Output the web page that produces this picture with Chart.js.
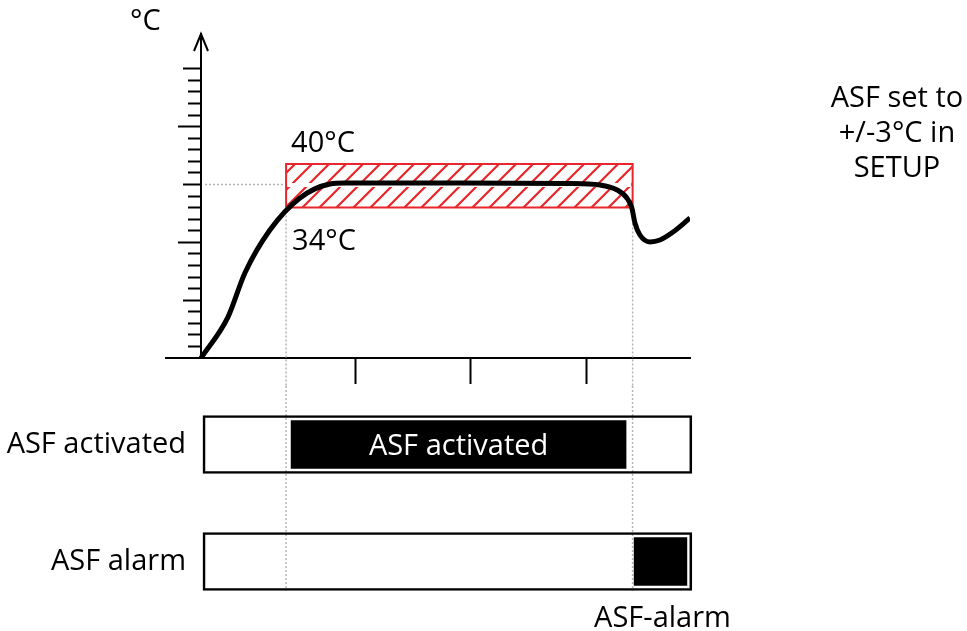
<!DOCTYPE html>
<html>
<head>
<meta charset="utf-8">
<script src="https://cdn.jsdelivr.net/npm/chart.js@4.4.0/dist/chart.umd.min.js"></script>
<style>
  html, body { margin: 0; padding: 0; background: #fff; overflow: hidden; }
  canvas { position: absolute; left: 0; }
  #temp { top: 0; }
  #status { top: 346px; }
</style>
</head>
<body>
<canvas id="temp" width="967" height="386"></canvas>
<canvas id="status" width="967" height="310"></canvas>
<script>
// temperature curve: time units on x, tick units on y (0 = x axis)
const curveTime = [0, 0.70, 1.14, 1.79, 2.57, 3.35, 3.74, 6.47, 9.58, 10.36, 10.81, 11.06, 11.19, 11.27, 11.40, 11.66, 11.92, 12.26, 12.70];
const curveLevel = [0, 3.54, 7.35, 11.06, 13.83, 15.04, 15.12, 15.12, 15.08, 14.95, 14.52, 13.83, 12.96, 11.67, 10.63, 10.03, 10.20, 10.89, 12.10];

// ASF band (34°C .. 40°C) and set point
const bandTime = [2.21, 11.21];
const bandLevel = [13.0, 16.77];
const setLevel = 15;
const bandLabels = ['40°C', '34°C'];

// axis ticks
const timeTicks = [4, 7, 10];
const minorTicks = [1, 2, 3, 4, 6, 7, 8, 9, 11, 12, 13, 14, 16, 17, 18, 19, 21, 22, 23, 24];
const midTicks = [5, 15, 25];
const majorTicks = [10, 20];

// status rows
const statusRows = ['ASF activated', 'ASF alarm'];
const frameRange = [0.05, 12.75];
const statusOn = [[2.34, 11.04], [11.25, 12.62]];
const noteLines = ['ASF set to', '+/-3°C in', 'SETUP'];

const RED = '#e8262b';
const DOTS = '#b4b4b4';
const FONT = '"Open Sans", sans-serif';
const TEXT = '29px ' + FONT;
Chart.defaults.font.family = FONT;
Chart.defaults.color = '#000';

function hatch(color) {
  const s = 17;
  const c = document.createElement('canvas');
  c.width = s; c.height = s;
  const g = c.getContext('2d');
  g.strokeStyle = color;
  g.lineWidth = 2.2;
  g.beginPath();
  g.moveTo(0, s); g.lineTo(s, 0);
  g.moveTo(-s / 2, s / 2); g.lineTo(s / 2, -s / 2);
  g.moveTo(s / 2, s * 1.5); g.lineTo(s * 1.5, s / 2);
  g.stroke();
  return g.createPattern(c, 'repeat');
}

function tickAxis(ticks, len, border) {
  return {
    type: 'linear',
    position: { x: 0 },
    min: 0,
    max: 28,
    border: { display: border, width: 2, color: '#000' },
    grid: { drawOnChartArea: false, drawTicks: true, tickLength: len, tickWidth: 2, color: '#000' },
    ticks: { display: false },
    afterBuildTicks: (s) => { s.ticks = ticks.map((v) => ({ value: v })); }
  };
}

const tempDecor = {
  id: 'tempDecor',
  beforeDatasetsDraw(chart) {
    const { ctx, scales: { x, y } } = chart;
    const x0 = x.getPixelForValue(0);
    const xs = x.getPixelForValue(bandTime[0]);
    const xe = x.getPixelForValue(bandTime[1]);
    const ys = y.getPixelForValue(setLevel);
    const yb = y.getPixelForValue(bandLevel[0]);
    ctx.save();
    ctx.strokeStyle = DOTS;
    ctx.lineWidth = 1.5;
    ctx.setLineDash([2, 2]);
    ctx.beginPath();
    ctx.moveTo(x0 + 4, ys); ctx.lineTo(xs, ys);
    ctx.moveTo(xs, yb); ctx.lineTo(xs, chart.height);
    ctx.moveTo(xe, yb); ctx.lineTo(xe, chart.height);
    ctx.stroke();
    ctx.restore();
  },
  afterDatasetDraw(chart, args) {
    // white gap through the middle of the hatching
    if (args.index !== 1) return;
    const { ctx, scales: { x, y } } = chart;
    const ys = y.getPixelForValue(setLevel) + 0.5;
    ctx.save();
    ctx.strokeStyle = '#fff';
    ctx.lineWidth = 4;
    ctx.beginPath();
    ctx.moveTo(x.getPixelForValue(bandTime[0]) + 1.5, ys);
    ctx.lineTo(x.getPixelForValue(bandTime[1]) - 1.5, ys);
    ctx.stroke();
    ctx.restore();
  },
  afterDraw(chart) {
    const { ctx, chartArea, scales: { x, y } } = chart;
    const x0 = x.getPixelForValue(0);
    const top = chartArea.top;
    ctx.save();
    // arrow head
    ctx.strokeStyle = '#000';
    ctx.lineWidth = 2;
    ctx.beginPath();
    ctx.moveTo(x0 - 7, top + 17);
    ctx.lineTo(x0, top);
    ctx.lineTo(x0 + 7, top + 17);
    ctx.stroke();
    // texts
    ctx.fillStyle = '#000';
    ctx.font = TEXT;
    ctx.textBaseline = 'alphabetic';
    ctx.textAlign = 'left';
    ctx.fillText('°C', x0 - 71, top - 4);
    const xs = x.getPixelForValue(bandTime[0]);
    ctx.fillText(bandLabels[0], xs + 5, y.getPixelForValue(bandLevel[1]) - 12);
    ctx.fillText(bandLabels[1], xs + 6, y.getPixelForValue(bandLevel[0]) + 42);
    ctx.textAlign = 'center';
    noteLines.forEach((t, i) => ctx.fillText(t, 897, 107 + i * 35));
    ctx.restore();
  }
};

new Chart(document.getElementById('temp'), {
  type: 'line',
  data: {
    datasets: [
      {
        data: curveTime.map((t, i) => ({ x: t, y: curveLevel[i] })),
        borderColor: '#000',
        borderWidth: 5,
        pointRadius: 0,
        cubicInterpolationMode: 'monotone',
        fill: false,
        order: 0
      },
      {
        data: [
          { x: bandTime[0], y: bandLevel[0] },
          { x: bandTime[0], y: bandLevel[1] },
          { x: bandTime[1], y: bandLevel[1] },
          { x: bandTime[1], y: bandLevel[0] },
          { x: bandTime[0], y: bandLevel[0] }
        ],
        borderColor: RED,
        borderWidth: 2,
        backgroundColor: hatch(RED),
        pointRadius: 0,
        fill: 'shape',
        order: 1
      }
    ]
  },
  options: {
    responsive: false,
    animation: false,
    events: [],
    layout: { padding: { left: 166, right: 277, top: 34, bottom: 28 } },
    plugins: { legend: { display: false }, tooltip: { enabled: false } },
    scales: {
      x: {
        type: 'linear',
        position: { y: 0 },
        min: -0.909,
        max: 12.7,
        border: { display: true, width: 2, color: '#000' },
        grid: { drawOnChartArea: false, drawTicks: true, tickLength: 25, tickWidth: 2, color: '#000' },
        ticks: { display: false },
        afterBuildTicks: (s) => { s.ticks = timeTicks.map((v) => ({ value: v })); }
      },
      y: tickAxis(minorTicks, 12, true),
      yMid: tickAxis(midTicks, 18, false),
      yMajor: tickAxis(majorTicks, 23, false)
    }
  },
  plugins: [tempDecor]
});

const statusDecor = {
  id: 'statusDecor',
  beforeDatasetsDraw(chart) {
    const { ctx, chartArea, scales: { x, y } } = chart;
    const bottom = y.getPixelForValue(1) + 29;
    ctx.save();
    ctx.strokeStyle = DOTS;
    ctx.lineWidth = 1.5;
    ctx.setLineDash([2, 2]);
    ctx.beginPath();
    bandTime.forEach((t) => {
      const px = x.getPixelForValue(t);
      ctx.moveTo(px, chartArea.top);
      ctx.lineTo(px, bottom);
    });
    ctx.stroke();
    ctx.restore();
  },
  afterDatasetsDraw(chart) {
    const { ctx, scales: { x, y } } = chart;
    ctx.save();
    ctx.font = TEXT;
    ctx.textAlign = 'center';
    ctx.textBaseline = 'alphabetic';
    ctx.fillStyle = '#fff';
    const on = statusOn[0];
    ctx.fillText(statusRows[0], x.getPixelForValue((on[0] + on[1]) / 2), y.getPixelForValue(0) + 10);
    const al = statusOn[1];
    ctx.fillStyle = '#000';
    ctx.fillText('ASF-alarm', x.getPixelForValue((al[0] + al[1]) / 2) + 2, y.getPixelForValue(1) + 29 + 36);
    ctx.restore();
  }
};

new Chart(document.getElementById('status'), {
  type: 'bar',
  data: {
    labels: statusRows,
    datasets: [
      {
        data: statusOn,
        backgroundColor: '#000',
        borderWidth: 0,
        barThickness: 48,
        grouped: false,
        order: 0
      },
      {
        data: statusRows.map(() => frameRange),
        backgroundColor: 'rgba(0,0,0,0)',
        borderColor: '#000',
        borderWidth: 2,
        borderSkipped: false,
        barThickness: 58,
        grouped: false,
        order: 1
      }
    ]
  },
  options: {
    indexAxis: 'y',
    responsive: false,
    animation: false,
    events: [],
    layout: { padding: { left: 0, right: 270, top: 40, bottom: 36 } },
    plugins: { legend: { display: false }, tooltip: { enabled: false } },
    scales: {
      x: { type: 'linear', display: false, min: -0.078, max: 12.883 },
      y: {
        position: 'left',
        border: { display: false },
        grid: { display: false, drawTicks: false },
        ticks: { padding: 12, color: '#000', font: { size: 29 } },
        afterFit: (s) => { s.width = 198; }
      }
    }
  },
  plugins: [statusDecor]
});
</script>
</body>
</html>
